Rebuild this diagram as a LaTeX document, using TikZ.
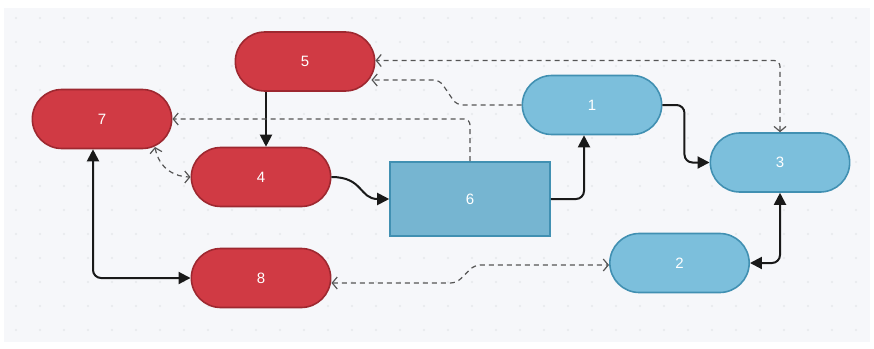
\documentclass[tikz,border=0pt]{standalone}
\usepackage{fontspec}
\setmainfont{Liberation Sans}
\usetikzlibrary{arrows.meta,calc,shapes.misc}
\definecolor{redfill}{HTML}{D03A44}
\definecolor{redline}{HTML}{9E2830}
\definecolor{bluefill}{HTML}{7CBFDC}
\definecolor{blueline}{HTML}{4190B2}
\definecolor{panel}{HTML}{F6F7FA}
\definecolor{gdot}{HTML}{E6E8EC}
\definecolor{dashc}{HTML}{555555}
\begin{document}
\begin{tikzpicture}[x=1pt,y=-1pt,
  pill/.style={rounded rectangle, minimum width=146pt, minimum height=59pt, line width=1.6pt,
     text=white, font=\fontsize{15}{17}\selectfont},
  rednode/.style={pill, fill=redfill, draw=redline},
  bluenode/.style={pill, fill=bluefill, draw=blueline},
  boxnode/.style={rectangle, minimum width=160pt, minimum height=74pt, line width=1.6pt,
     fill=bluefill!95!black, draw=blueline, text=white, font=\fontsize{15}{17}\selectfont},
  sol/.style={line width=2pt, draw=black!90, rounded corners=8pt},
  tip/.style={-{Triangle[length=12pt,width=12pt]}},
  btip/.style={{Triangle[length=12pt,width=12pt]}-{Triangle[length=12pt,width=12pt]}},
  dsh/.style={line width=1.2pt, draw=dashc, dash pattern=on 5pt off 4pt, rounded corners=6pt},
  barb/.style={-{Straight Barb[length=5pt,width=12pt]}},
  bbarb/.style={{Straight Barb[length=5pt,width=12pt]}-{Straight Barb[length=5pt,width=12pt]}}
]
\useasboundingbox (0,0) rectangle (874,348);
\fill[white] (0,0) rectangle (874,348);
\fill[panel] (4,8) rectangle (870,342);
\foreach \i in {0,...,35} {\foreach \j in {0,...,13} {
  \fill[gdot] (16+24*\i,18+24*\j) circle (1.1pt);}}

\node[rednode] (n5) at (305,61.5) {5};
\node[rednode] (n7) at (102,119) {7};
\node[rednode] (n4) at (261,177) {4};
\node[rednode] (n8) at (261,278) {8};
\node[boxnode] (n6) at (470,199) {6};
\node[bluenode] (n1) at (592,105) {1};
\node[bluenode] (n3) at (780,162.5) {3};
\node[bluenode] (n2) at (679.5,263) {2};

% solid connectors
\draw[sol,tip] ($(n5.south -| n4.north)+(5,0)$) -- ($(n4.north)+(5,0)$);
\draw[sol,tip,rounded corners=0pt] (n4.east) .. controls +(32,0) and +(-30,0) .. (n6.west);
\draw[sol,tip] (n6.east) -| ($(n1.south)+(-8,0)$);
\draw[sol,tip] (n1.east) -- ++(22,0) |- (n3.west);
\draw[sol,btip] (n3.south) |- (n2.east);
\draw[sol,btip] ($(n7.south)+(-9,0)$) |- (n8.west);

% dashed connectors
\draw[dsh,barb] (n6.north) |- (n7.east);
\draw[dsh,barb] (n1.west) -- ++(-65,0) -- ++(-17,-25) -- ($(n5.east)+(-4,18.5)$);
\draw[dsh,bbarb] (n3.north) |- ($(n5.east)+(0,-1)$);
\draw[dsh,bbarb,rounded corners=0pt] ($(n7.center)+(53,28)$) .. controls +(4,22) and +(-15,0) .. (n4.west);
\draw[dsh,bbarb] ($(n8.east)+(0,5)$) -- ++(125,0) -- ++(18,-18) -- ($(n2.west)+(0,2)$);
\end{tikzpicture}
\end{document}
